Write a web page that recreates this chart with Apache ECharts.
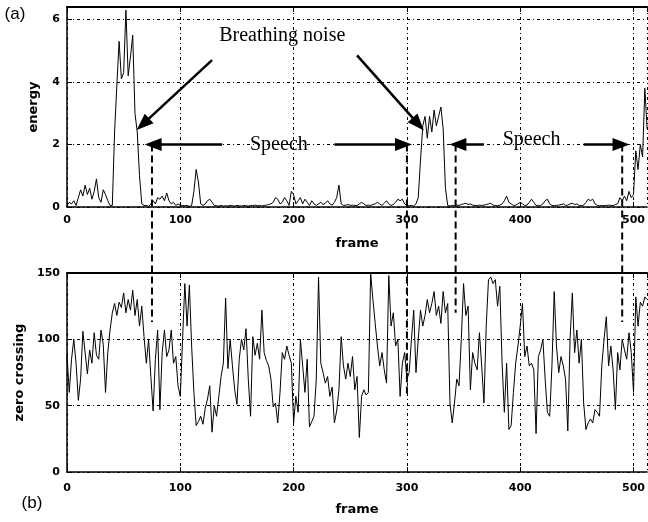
<!DOCTYPE html>
<html><head><meta charset="utf-8">
<script src="https://cdn.jsdelivr.net/npm/echarts@6/dist/echarts.min.js"></script>
<style>html,body{margin:0;padding:0;background:#fff}#c{width:648px;height:522px}</style>
</head><body><div id="c"></div>
<script>
// frames are sampled every 2 frames
const frameStep = 2;
const energy = [
0.05,0.15,0.1,0.2,0.05,0.3,0.55,0.35,0.7,0.4,
0.6,0.25,0.5,0.9,0.3,0.15,0.55,0.4,0.2,0.05,
0.05,2.4,3.9,5.3,4.1,4.3,6.3,4.2,4.8,5.5,
3.0,2.4,1.0,0.1,0.05,0.05,0.02,0.1,0.2,0.1,
0.3,0.25,0.35,0.2,0.45,0.2,0.1,0.15,0.05,0.1,
0.05,0.05,0.04,0.05,0.02,0.05,0.5,1.2,0.8,0.1,
0.05,0.1,0.2,0.25,0.15,0.05,0.04,0.03,0.05,0.03,
0.04,0.03,0.05,0.04,0.03,0.05,0.04,0.03,0.05,0.04,
0.03,0.05,0.04,0.06,0.04,0.05,0.03,0.05,0.06,0.08,
0.1,0.15,0.3,0.25,0.1,0.15,0.3,0.2,0.05,0.5,
0.4,0.1,0.2,0.3,0.1,0.25,0.15,0.05,0.2,0.1,
0.05,0.1,0.15,0.08,0.12,0.2,0.1,0.06,0.15,0.3,
0.7,0.1,0.05,0.06,0.08,0.05,0.06,0.05,0.04,0.1,
0.15,0.1,0.05,0.06,0.05,0.08,0.1,0.15,0.1,0.05,
0.12,0.2,0.1,0.05,0.08,0.15,0.25,0.2,0.25,0.1,
0.05,0.04,0.05,0.03,0.1,0.3,1.5,2.6,2.9,2.2,
2.9,2.4,3.1,2.6,2.9,3.2,2.5,0.6,0.05,0.03,
0.05,0.04,0.06,0.05,0.08,0.1,0.12,0.08,0.1,0.06,
0.05,0.04,0.06,0.05,0.06,0.08,0.1,0.12,0.06,0.05,
0.04,0.06,0.1,0.2,0.35,0.15,0.1,0.05,0.06,0.1,
0.15,0.1,0.05,0.06,0.15,0.25,0.15,0.05,0.04,0.05,
0.1,0.2,0.25,0.1,0.05,0.04,0.05,0.06,0.08,0.1,
0.05,0.06,0.1,0.12,0.08,0.1,0.05,0.04,0.06,0.15,
0.25,0.2,0.25,0.1,0.05,0.04,0.05,0.04,0.05,0.06,
0.05,0.04,0.08,0.1,0.3,0.2,0.35,0.2,0.5,0.3,
0.4,1.8,1.2,2.0,1.6,3.8,2.5
];
const zeroCrossing = [
88,60,85,100,82,54,70,106,90,74,
92,82,105,88,85,107,96,60,90,107,
120,127,118,128,124,135,120,130,122,137,
118,130,110,125,102,82,100,72,46,85,
107,47,90,107,87,92,107,82,87,65,
57,100,142,110,141,95,60,35,38,42,
36,48,55,65,30,50,42,57,72,82,
131,78,100,80,62,51,85,100,92,108,
70,42,102,88,97,85,122,90,84,80,
70,49,52,37,60,90,85,95,88,82,
37,57,45,100,80,60,85,34,38,42,
70,147,82,75,67,72,57,64,37,46,
62,102,80,70,82,72,87,62,72,26,
57,62,58,60,150,130,112,95,80,90,
77,67,148,110,120,95,100,57,82,90,
70,75,100,122,75,100,122,110,118,130,
120,127,136,118,125,112,136,120,127,52,
37,52,70,65,100,142,118,125,62,90,
82,77,105,80,52,110,145,147,142,145,
125,140,82,45,82,32,35,60,82,95,
110,127,87,95,80,82,77,29,87,92,
100,70,45,42,80,136,95,75,87,80,
70,31,100,135,90,107,82,100,52,32,
37,40,37,47,45,42,80,100,117,80,
95,77,47,90,77,100,92,85,105,90,
60,132,110,128,125,132,130
];
// segment boundaries (frame) and lower end of dashed marker (zero-crossing units)
const speechBounds = [75, 300, 343, 490];
const boundEnds = [113, 57, 120, 113];
// annotation arrows: [from, to] in (frame, energy)
const arrows = [
  [[128, 4.7], [67, 2.65]],
  [[256, 4.85], [310, 2.65]],
  [[137, 2], [76, 2]],
  [[236, 2], [297, 2]],
  [[368, 2], [345, 2]],
  [[456, 2], [489, 2]]
];
const labels = [
  {text: 'Breathing noise', at: [190, 5.47]},
  {text: 'Speech', at: [187, 2.0]},
  {text: 'Speech', at: [410, 2.14]}
];

const tickFont = {fontFamily: 'DejaVu Sans', fontWeight: 'bold', fontSize: 11, color: '#000'};
const nameFont = {fontFamily: 'DejaVu Sans', fontWeight: 'bold', fontSize: 13, color: '#000'};
const gridLine = {show: true, lineStyle: {color: '#000', width: 1, type: [3, 3, 1, 3]}};

function xBottom(gi, gap, margin) {
  return {gridIndex: gi, type: 'value', min: 0, max: 512, interval: 100, position: 'bottom',
    axisLine: {onZero: false, lineStyle: {color: '#000', width: 1.5}},
    axisTick: {inside: true, length: 5, lineStyle: {color: '#000'}},
    axisLabel: Object.assign({margin: margin, showMaxLabel: false}, tickFont),
    splitLine: gridLine,
    name: 'frame', nameLocation: 'middle', nameGap: gap, nameTextStyle: nameFont};
}
function xTop(gi) {
  return {gridIndex: gi, type: 'value', min: 0, max: 512, interval: 100, position: 'top',
    axisLine: {onZero: false, lineStyle: {color: '#000', width: 2}},
    axisTick: {inside: true, length: 5, lineStyle: {color: '#000'}},
    axisLabel: {show: false}, splitLine: {show: false}};
}
function yAx(gi, max, interval, name, gap) {
  return {gridIndex: gi, type: 'value', min: 0, max: max, interval: interval,
    axisLine: {show: true, onZero: false, lineStyle: {color: '#000', width: 1.5}},
    axisTick: {show: true, inside: true, length: 5, lineStyle: {color: '#000'}},
    axisLabel: Object.assign({margin: 7, showMaxLabel: max % interval === 0}, tickFont),
    splitLine: gridLine,
    name: name, nameLocation: 'middle', nameGap: gap, nameRotate: 90, nameTextStyle: nameFont};
}

const chart = echarts.init(document.getElementById('c'));
chart.setOption({
  animation: false,
  backgroundColor: '#fff',
  grid: [
    {left: 67, top: 7, width: 582, height: 200},
    {left: 67, top: 273, width: 582, height: 199}
  ],
  xAxis: [xBottom(0, 30, 8), xTop(0), xBottom(1, 31, 11), xTop(1)],
  yAxis: [yAx(0, 6.4, 2, 'energy', 27), yAx(1, 150, 50, 'zero crossing', 37)],
  series: [
    {type: 'line', xAxisIndex: 0, yAxisIndex: 0, showSymbol: false, silent: true,
     data: energy.map((v, i) => [i * frameStep, v]),
     lineStyle: {color: '#000', width: 1},
     markLine: {silent: true, symbol: ['none', 'triangle'], symbolSize: [13, 17],
       label: {show: false}, lineStyle: {color: '#000', width: 2.5, type: 'solid'},
       data: arrows.map(a => [{coord: a[0]}, {coord: a[1]}])}},
    {type: 'line', xAxisIndex: 2, yAxisIndex: 1, showSymbol: false, silent: true,
     data: zeroCrossing.map((v, i) => [i * frameStep, v]),
     lineStyle: {color: '#000', width: 1}}
  ]
});

const g = [];
speechBounds.forEach((f, i) => {
  const p1 = chart.convertToPixel({seriesIndex: 0}, [f, 2]);
  const p2 = chart.convertToPixel({seriesIndex: 1}, [f, boundEnds[i]]);
  g.push({type: 'line', silent: true, z: 50,
    shape: {x1: p1[0], y1: p1[1], x2: p2[0], y2: p2[1]},
    style: {stroke: '#000', lineWidth: 2, lineDash: [7, 4]}});
});
labels.forEach(l => {
  const p = chart.convertToPixel({seriesIndex: 0}, l.at);
  g.push({type: 'text', silent: true, z: 60, x: p[0], y: p[1],
    style: {text: l.text, font: '20px "Liberation Serif"', fill: '#000',
      align: 'center', verticalAlign: 'middle', textAlign: 'center', textVerticalAlign: 'middle'}});
});
g.push({type: 'text', x: 15, y: 14, style: {text: '(a)', font: '17px "Liberation Sans"', fill: '#000',
  align: 'center', verticalAlign: 'middle', textAlign: 'center', textVerticalAlign: 'middle'}});
g.push({type: 'text', x: 32, y: 503, style: {text: '(b)', font: '17px "Liberation Sans"', fill: '#000',
  align: 'center', verticalAlign: 'middle', textAlign: 'center', textVerticalAlign: 'middle'}});
chart.setOption({graphic: g});
</script>
</body></html>
